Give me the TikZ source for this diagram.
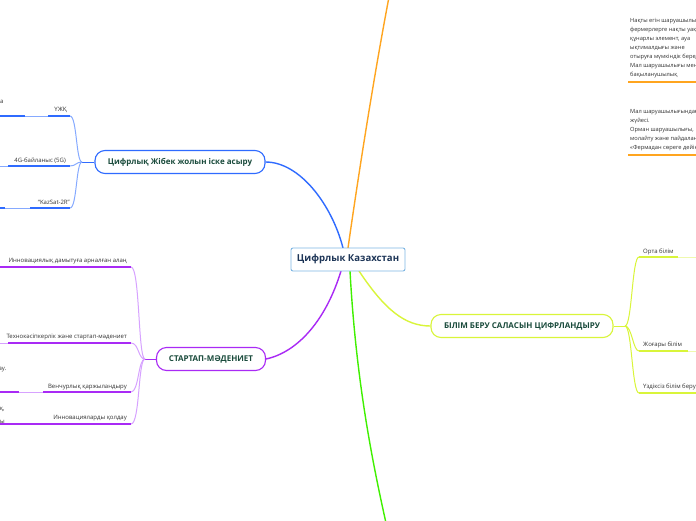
\documentclass[tikz,border=0pt]{standalone}
\usepackage{fontspec}
\setmainfont{Open Sans}
\definecolor{cblue}{HTML}{2F6BFF}
\definecolor{cbluel}{HTML}{86AAFF}
\definecolor{cpurp}{HTML}{A92AF5}
\definecolor{cpurpl}{HTML}{D7A2FF}
\definecolor{corange}{HTML}{FFA51F}
\definecolor{cyel}{HTML}{D9F53A}
\definecolor{cyell}{HTML}{EFF9AE}
\definecolor{cgreen}{HTML}{40F000}
\definecolor{tgreen}{HTML}{1A4B3C}
\definecolor{tnavy}{HTML}{1D3557}
\definecolor{cbox}{HTML}{7DB6E3}
\tikzset{
  topic/.style={draw, line width=1.1pt, rounded corners=10pt, fill=white,
    font=\bfseries\fontsize{8}{9}\selectfont, text=tgreen, inner sep=0pt, minimum height=23pt},
  centerbox/.style={draw=cbox, line width=0.9pt, rounded corners=2pt, fill=white,
    font=\bfseries\fontsize{9.6}{11}\selectfont, text=tnavy, inner sep=0pt,
    minimum width=114pt, minimum height=23pt},
  subtext/.style={font=\fontsize{6}{7}\selectfont, text=black!80, inner sep=0pt, anchor=base east},
  leftfrag/.style={font=\fontsize{6}{7}\selectfont, text=black!80, inner sep=0pt, anchor=base west},
  noteline/.style={font=\fontsize{5.7}{7}\selectfont, text=black!80, inner sep=0pt, anchor=base west},
  uthick/.style={line width=1.8pt},
  uthin/.style={line width=0.8pt},
  conn/.style={line width=1pt},
  mainconn/.style={line width=1.4pt},
}
\begin{document}
\begin{tikzpicture}[x=1pt,y=-1pt]
\useasboundingbox (0,0) rectangle (696,520);
\clip (0,0) rectangle (696,520);
\fill[white] (0,0) rectangle (696,520);

% ---------- main connectors (behind boxes)
\coordinate (oend) at (389,-3);
\coordinate (gend) at (386,523);
\node[topic, draw=cblue, minimum width=170pt] (t1) at (180,162) {Цифрлық Жібек жолын іске асыру};
\node[topic, draw=cpurp, minimum width=109pt] (t2) at (211,359) {СТАРТАП-МӘДЕНИЕТ};
\node[topic, draw=cyel, minimum width=182pt] (t3) at (522,326) {БІЛІМ БЕРУ САЛАСЫН ЦИФРЛАНДЫРУ};
\coordinate (cb) at (343,248);
\coordinate (co) at (348,248);
\coordinate (cp) at (341,271);
\coordinate (cg) at (350,271);
\coordinate (cy) at (359,271);
\draw[mainconn, corange] (co) .. controls (362,150) and (377,60) .. (oend);
\draw[mainconn, cgreen] (cg) .. controls (356,380) and (372,460) .. (gend);
\draw[mainconn, cblue] (cb) .. controls (332,205) and (300,162) .. (t1.east);
\draw[mainconn, cpurp] (cp) .. controls (326,320) and (298,352) .. (t2.east);
\draw[mainconn, cyel] (cy) .. controls (385,310) and (405,326) .. (t3.west);
\node[centerbox] (c) at (348,259.5) {Цифрлык Казахстан};

% ---------- blue branch
\coordinate (bj) at (82,162);
\draw[conn, cblue] (t1.west) -- (bj);
\node[subtext] (b1) at (67,111) {ҮЖҚ};
\node[subtext] (b2) at (66,162) {4G-байланыс (5G)};
\node[subtext] (b3) at (70,204) {“KazSat-2R”};
\node[leftfrag] (bf1) at (-4,103) {на};
\coordinate (b1e) at (70,116);
\coordinate (b2e) at (70,166);
\coordinate (b3e) at (70,208);
\draw[conn, cbluel] (bj) .. controls (76,162) and (77,116) .. (b1e);
\draw[conn, cbluel] (bj) .. controls (76,162) and (76,166) .. (b2e);
\draw[conn, cbluel] (bj) .. controls (76,162) and (77,208) .. (b3e);
\draw[uthick, cblue] (48,116) -- (b1e);
\draw[uthin, cbluel] (25,116) -- (48,116);
\draw[uthick, cblue] (-2,116) -- (25,116);
\draw[uthick, cblue] (8,166) -- (b2e);
\draw[uthin, cbluel] (-2,166) -- (8,166);
\draw[uthick, cblue] (30,208) -- (b3e);
\draw[uthin, cbluel] (5,208) -- (30,208);
\draw[uthick, cblue] (-2,208) -- (5,208);

% ---------- purple branch
\coordinate (pj) at (145,359);
\draw[conn, cpurp] (t2.west) -- (pj);
\node[subtext] (p1) at (127,262) {Инновациялық дамытуға арналған алаң};
\node[subtext] (p2) at (127,338) {Технокәсіпкерлік және стартап-мәдениет};
\node[subtext] (p3) at (127,388) {Венчурлық қаржыландыру};
\node[subtext] (p4) at (127,419) {Инновацияларды қолдау};
\node[leftfrag] (pf1) at (-5,370) {дау.};
\node[leftfrag] (pf2) at (-4,379) {р};
\node[leftfrag] (pf3) at (-5,410) {ық,};
\node[leftfrag] (pf4) at (-4,423) {ны};
\coordinate (p1e) at (131,267);
\coordinate (p2e) at (131,343);
\coordinate (p3e) at (131,392);
\coordinate (p4e) at (131,424);
\draw[conn, cpurpl] (pj) .. controls (138,359) and (140,267) .. (p1e);
\draw[conn, cpurpl] (pj) .. controls (138,359) and (139,343) .. (p2e);
\draw[conn, cpurpl] (pj) .. controls (138,359) and (139,392) .. (p3e);
\draw[conn, cpurpl] (pj) .. controls (138,359) and (140,424) .. (p4e);
\draw[uthick, cpurp] (-2,267) -- (p1e);
\draw[uthick, cpurp] (8,343) -- (p2e);
\draw[uthin, cpurpl] (-2,343) -- (8,343);
\draw[uthick, cpurp] (43,392) -- (p3e);
\draw[uthin, cpurpl] (19,392) -- (43,392);
\draw[uthick, cpurp] (-2,392) -- (19,392);
\draw[uthick, cpurp] (-2,424) -- (p4e);

% ---------- yellow branch
\coordinate (yj) at (625,326);
\draw[conn, cyel] (t3.east) -- (yj);
\node[subtext, anchor=base west] (y1) at (643,253) {Орта білім};
\node[subtext, anchor=base west] (y2) at (643,346) {Жоғары білім};
\node[subtext, anchor=base west] (y3) at (643,388) {Үздіксіз білім беру};
\coordinate (y1e) at (639,257);
\coordinate (y2e) at (639,351);
\coordinate (y3e) at (639,393);
\draw[conn, cyel] (yj) .. controls (632,326) and (632,257) .. (y1e);
\draw[conn, cyel] (yj) .. controls (632,326) and (633,351) .. (y2e);
\draw[conn, cyel] (yj) .. controls (632,326) and (632,393) .. (y3e);
\draw[uthick, cyel] (y1e) -- (678,257);
\draw[uthin, cyell] (678,257) -- (698,257);
\draw[uthick, cyel] (y2e) -- (688,351);
\draw[uthin, cyell] (688,351) -- (698,351);
\draw[uthick, cyel] (y3e) -- (698,393);

% ---------- orange notes (top right)
\node[noteline] (o1) at (630,22) {Нақты егін шаруашылығы};
\node[noteline] (o2) at (630,31) {фермерлерге нақты уақыт};
\node[noteline] (o3) at (630,40) {құнарлы элемент, ауа};
\node[noteline] (o4) at (630,49) {ықтималдығы және};
\node[noteline] (o5) at (630,58) {отыруға мүмкіндік береді.};
\node[noteline] (o6) at (630,67) {Мал шаруашылығы мен};
\node[noteline] (o7) at (630,76) {бақыланушылық};
\draw[uthick, corange] (628,82) -- (698,82);
\node[noteline] (o8) at (630,113) {Мал шаруашылығындағы};
\node[noteline] (o9) at (630,122) {жүйесі.};
\node[noteline] (o10) at (630,131) {Орман шаруашылығы,};
\node[noteline] (o11) at (630,140) {молайту және пайдалану};
\node[noteline] (o12) at (630,149) {«Фермадан сөреге дейін»};
\draw[uthick, corange] (628,155) -- (698,155);
\end{tikzpicture}
\end{document}
